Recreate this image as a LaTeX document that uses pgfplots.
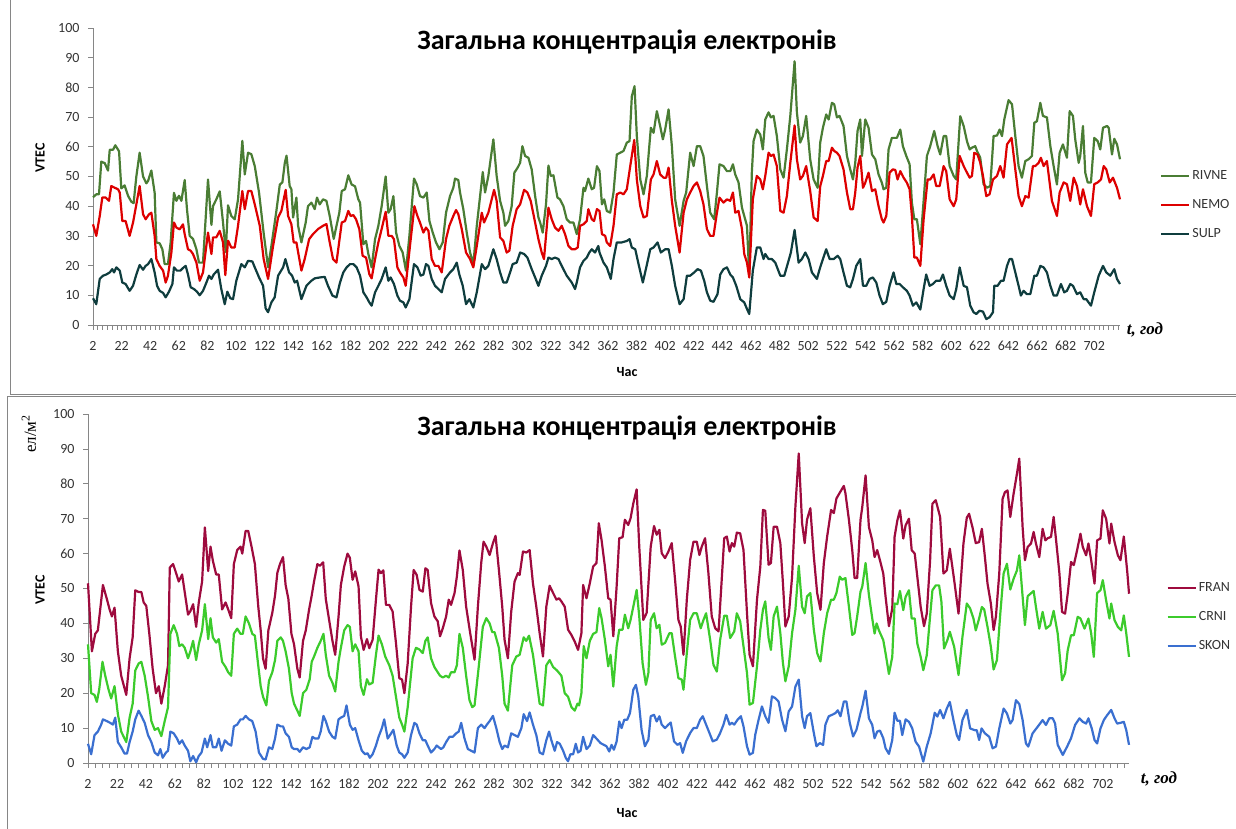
\documentclass[border=0pt]{standalone}
\usepackage{fontspec}
\setmainfont{Carlito}
\newfontfamily\seriffont{Liberation Serif}
\usepackage{pgfplots}
\pgfplotsset{compat=1.18}
\definecolor{rivne}{HTML}{4A7D34}
\definecolor{nemo}{HTML}{DD0000}
\definecolor{sulp}{HTML}{0F3D3E}
\definecolor{fran}{HTML}{9E0B3E}
\definecolor{crni}{HTML}{3CCB2C}
\definecolor{skon}{HTML}{3A6FD0}
\definecolor{axgray}{HTML}{868686}
\pgfplotsset{
  mystyle/.style={
    scale only axis, xmin=2, xmax=720, ymin=0, ymax=100,
    axis x line*=bottom, axis y line*=left,
    axis line style={draw=axgray, line width=0.8pt},
    ytick={0,10,...,100}, xtick={2,22,...,702},
    tick align=outside, major tick length=5pt, minor tick length=5pt,
    every tick/.style={draw=axgray, line width=0.6pt},
    tick label style={font=\fontsize{14}{16}\selectfont, text=black!80},
    xticklabel style={anchor=base, yshift=-20.5pt},
    yticklabel style={xshift=-5pt},
    /pgf/number format/assume math mode=true,
    clip=false,
    every axis plot/.append style={line width=2.2pt, line join=round, mark=none},
    legend image code/.code={\draw[##1, line width=2.2pt] (0pt,0pt) -- (28pt,0pt);},
    legend cell align=left,
  }
}
\begin{document}
\begin{tikzpicture}[x=1pt,y=1pt]
\useasboundingbox (0,0) rectangle (1236,829);
\draw[axgray, line width=0.8pt] (10,829) -- (10,435) -- (1236,435);
\draw[axgray, line width=0.8pt] (7,0) -- (7,433) -- (1236,433);

\begin{axis}[mystyle, at={(93pt,504pt)}, anchor=south west, width=1027pt, height=297pt,
  minor xtick={2,5.3333,...,720},
  legend style={at={(axis description cs:1.036,0.404)}, anchor=west, draw=none, fill=none,
    font=\fontsize{14}{16}\selectfont, text=black!80, row sep=14.5pt}]
\addplot[rivne] coordinates {(2,43)(4.3,44)(6.2,44)(7.8,55)(10.2,54.5)(12.5,52)(13.7,59)(16,59)(17.6,60.5)(20.2,58.5)(21.8,46)(24.1,47)(26.5,43.5)(28.8,41.5)(30.4,41)(32.3,50)(34.6,58)(37,50)(39.3,47.7)(40.5,48.5)(42.8,52)(45.1,44.5)(46.3,27.8)(48.6,27.5)(50.5,25.5)(52.1,20.5)(54.4,20.5)(56.3,27.8)(58.6,44.5)(60.3,41.8)(62.1,43.5)(63.8,41.8)(66.1,48.8)(67.7,39)(69.6,30)(71.9,29)(74.3,25.5)(76.1,21)(78.9,21)(82.4,49)(84.8,33.7)(85.9,40)(88.2,42.3)(90.6,45)(92.9,34.5)(94.8,24.6)(96.4,40.3)(98.7,36.7)(101.1,35.6)(103.4,42.3)(106.4,62)(108.1,50.7)(110.4,58)(112.7,57.5)(115.1,53.5)(118.1,44.5)(121.3,31)(124.4,19.4)(126.7,26.6)(130.2,38.4)(132.6,47.3)(134.4,48)(136.1,54.6)(137.3,57)(139.5,46.8)(140.7,45.7)(141.9,36.2)(144.2,42.9)(145.4,33.4)(147.7,27.8)(150.7,34.5)(152.3,40)(154.7,41.2)(157,39)(158.6,42.9)(160.5,40.6)(162.8,42.3)(165.2,41.8)(167.5,36.7)(170.3,29)(174.2,37.8)(175.9,45.1)(178.2,45.7)(180.5,50.4)(182.8,47.3)(185.2,46.7)(187.5,42.3)(188.7,41.2)(191,27.2)(192.9,28.3)(194.5,23.9)(196.8,19.4)(199.2,28.9)(201.5,33.4)(203.8,40)(206.6,50)(208.5,37.8)(210.1,39)(212,43.4)(213.9,31.1)(216.2,26.6)(218.5,24.4)(220.8,18.3)(223.2,30)(226.4,49.3)(228.3,47.4)(230.6,43.4)(233,42.9)(235.3,44.6)(237.2,35)(239.5,31.1)(241.8,27.8)(244.2,25.5)(246.5,27.8)(248.8,37.8)(251.6,43.4)(253.9,46.2)(255.1,49.3)(257.4,48.8)(258.6,44.6)(260.9,39)(263.3,31.1)(265.6,24.4)(267.9,20.5)(270.3,33.4)(274.5,51.5)(276.1,44.6)(278.4,50.2)(281.9,62.5)(284.2,50.2)(286.6,41.8)(288.9,37.8)(290.1,33.4)(292.4,35)(294.7,40)(296.6,51.3)(298.9,53)(300.6,54.6)(302.2,60.2)(304.1,56.9)(306.4,56.3)(308.7,52.4)(311.1,43.4)(313.4,36.2)(314.6,34.5)(316.4,31.1)(318.7,40.6)(320.4,53.7)(322,50.2)(323.9,50.4)(326.7,42.9)(328.5,42.3)(330.9,40)(333.2,35.6)(335.5,34.5)(337.9,34.5)(340.2,30.6)(342.5,35.6)(344.9,46.2)(346,45.1)(348.3,49.3)(350.7,45.7)(352.3,46.2)(354.3,53.5)(356.1,51.8)(357.8,40.6)(359.4,42.3)(361.2,38.4)(363.6,37.8)(365.9,44.6)(368.2,57.4)(370.6,58)(372.9,58.6)(375.2,61.4)(377.1,61.9)(378.7,77)(380.6,80.4)(382.2,63.6)(384.6,49)(386.9,44)(389.2,50.2)(392,66.4)(393.9,64.7)(396.2,72)(398.5,67)(400.4,62.5)(402,65.8)(404.4,72.6)(406.7,60.2)(409,42.3)(412.1,33.4)(414.9,41.8)(416.7,44.6)(419.5,58)(421.9,53.5)(424.2,60.2)(426.5,60.2)(428.8,56.9)(431.2,46.8)(433.5,37.8)(436.3,35.6)(438.2,44.6)(440,54.1)(442.8,53.5)(445.2,51.8)(447.5,51.8)(449.4,54.1)(451,50.7)(453.3,48)(455.7,39.5)(457.3,36.7)(459.2,33.4)(460.8,16.6)(462.6,51.3)(463.8,61.9)(466.1,65.8)(468.5,64.1)(470.3,59.1)(472,69.2)(474.3,71.6)(475.9,69.9)(477.8,70.4)(480.1,63.6)(482.5,52.4)(484.8,49.6)(487.1,59.1)(489.5,70.4)(492.5,88.8)(494.1,71.6)(496.4,61.4)(498.3,63.6)(500.6,70.4)(503.4,55.8)(505.8,49)(508.6,46.2)(510.4,61.4)(512.3,66.4)(514.6,70.9)(516.3,69.2)(518.6,74.8)(520.2,74.3)(522.1,69.9)(523.9,70.4)(526.7,67)(529.1,56.9)(531.4,52.4)(533.3,49)(534.9,54.6)(536.5,65.3)(538.4,69.2)(539.6,56.9)(541.9,69.2)(544.2,66.4)(546.6,57.4)(548.9,55.8)(551.2,50.7)(553.5,47.9)(554.7,45.7)(556.6,46.2)(558.2,59.1)(560.5,63)(562.9,63)(564,63)(566.4,65.8)(568.2,60.2)(570.6,56.9)(572.9,54.1)(574.5,41.2)(576.2,35.6)(578,35.6)(580.4,27.2)(582.7,41.8)(585,56.9)(587.3,60.2)(590.1,65.3)(592.5,60.2)(594.3,57.4)(596.7,63.6)(598.5,63.6)(600.9,53.5)(603.7,50.2)(605.5,49)(608.3,70.3)(610.7,67)(613,61.9)(614.9,59.1)(616.5,59.7)(618.8,60.2)(620,58.6)(622.3,56.3)(624.6,47.4)(627,46.2)(629.3,46.8)(631.6,63.6)(634,63.8)(635.8,65.8)(637.5,63.6)(639.1,69.2)(642.1,75.7)(644.5,74.3)(646.8,63.6)(649.1,53.5)(651.4,49.6)(653.8,55.2)(656.1,55.8)(658.4,56.9)(660.1,68.1)(661.9,68.6)(664.3,74.8)(666.1,70.4)(668.9,69.9)(671.3,60.2)(673.6,53.5)(675.9,47.3)(677.8,58)(680.1,60.8)(682.9,56.3)(684.8,72)(687.1,70.4)(688.7,62.5)(691.1,54.6)(692.2,56.9)(694.1,67)(695.7,51.3)(697.4,48)(699.7,48)(702,63)(704.4,61.9)(706.2,59.1)(708.1,66.4)(710.9,67)(712.1,66.4)(714.4,57.4)(716,62.7)(717.9,60.8)(720,55.8)};
\addlegendentry{RIVNE}
\addplot[nemo] coordinates {(2,33.9)(4.3,30)(6.7,36.7)(8.5,42.9)(10.9,42.9)(13.2,41.8)(14.8,46.8)(17.2,46.2)(19.5,45.7)(20.7,44.6)(22.5,35)(24.8,35)(27.6,30)(30,34.5)(32.3,40.6)(34.6,46.8)(37,37.3)(38.8,35.6)(41.2,37.3)(42.8,37.8)(45.1,30)(46.3,22.2)(48.6,19.9)(51,18.3)(52.8,14.3)(54.4,16.6)(56.8,24.4)(58.6,34.5)(60.3,32.8)(62.6,32.2)(64.9,33.9)(66.1,30.6)(68.4,25.5)(70.3,25)(71.9,23.9)(74.3,21)(76.6,14.9)(78.9,17.7)(82.4,31.1)(84.8,23.9)(85.9,29.5)(88.2,29.5)(90.6,31.7)(92.9,27.8)(94.5,16.8)(96.4,28.4)(98.7,26.1)(101.1,26.1)(103.4,33.4)(106.4,45.1)(108.1,39)(110.4,45.1)(112.7,45.1)(115.1,40.6)(118.6,33.4)(121.3,22.2)(124.4,15.5)(127.9,26.6)(131.4,36.2)(133.7,38.4)(136.7,45.5)(138.4,36.7)(140.7,33.9)(142.3,27.8)(144.2,27.8)(147.7,18.3)(150,22.2)(153.1,28.9)(155.8,30.6)(159.3,32.3)(162.8,33.4)(165.2,34)(167.5,27.8)(169.8,22.2)(172.2,21)(175.9,34.5)(178.2,35)(180.5,38.4)(182.1,36.7)(184,37)(185.9,35.6)(188.2,32.3)(190.5,23.3)(192.9,22.7)(195.2,17.1)(196.8,15.7)(199.2,22.2)(201.5,27.8)(203.8,32.3)(206.6,38.1)(208.5,30)(210.8,30)(212.4,28.9)(214.8,19.4)(216.6,17.7)(219,16)(220.6,13.2)(223.6,26.6)(226.7,40)(228.8,36.7)(230.6,34.5)(233,31.1)(234.8,32.8)(236.5,31.7)(238.8,22.2)(241.1,19.9)(243.5,19.9)(245.8,17.7)(248.8,28.9)(251.1,33.4)(253.9,36.7)(255.8,38.7)(257.4,37.3)(259.8,32.3)(262.8,24.4)(265.6,22.2)(267.9,19.4)(270.3,26.6)(273.8,37.8)(275.4,34.5)(278.4,37.8)(282.4,45.5)(284.2,41.8)(286.6,29.5)(288.9,28.3)(291.2,24.4)(293.1,25)(295.4,33.4)(298.2,39)(300.6,40.6)(303.4,45.5)(305.7,44.6)(308,41.8)(311.1,34.5)(313.4,28.9)(315.7,24.4)(317.3,22.2)(320.4,39.5)(322.7,35.6)(325,32.8)(327.4,31.7)(329.7,33.4)(332,30.6)(334.4,26.6)(336.7,25.5)(339,25.5)(340.9,26.1)(342.5,33.4)(344.9,33.9)(347.2,35)(348.3,39)(350.7,35.6)(352.3,35)(354.3,39)(356.1,38.4)(357.8,30.6)(360.1,30)(361.2,27.8)(363.6,26.6)(365.9,33.4)(368.2,44)(370.6,44.6)(372.9,44)(375.2,45.7)(377.6,53.5)(380.4,62.3)(382.2,49)(384.6,40)(386.9,36.2)(389.2,36.7)(392,49)(393.9,50.7)(396.2,55.2)(398.5,50.7)(400.9,49.6)(402.7,49.6)(404.4,53)(406.7,41.8)(409,33.4)(412.1,24.4)(414.9,37.8)(417.2,42.3)(419.5,44.6)(421.9,46.8)(424.2,48)(426.5,45.1)(428.8,40.6)(431.2,32.3)(433.5,30)(435.8,30)(438.2,37.8)(440,42.9)(442.8,41.2)(445.2,42.3)(447.5,41.8)(449.4,44.6)(451,37.8)(453.3,38.4)(455.7,32.3)(457.3,23.9)(459.2,21)(460.8,16)(463.3,42.3)(466.1,50.2)(468.5,49)(470.3,45.7)(472,50.2)(474.3,58)(475.9,56.9)(477.8,57.4)(480.1,53.5)(482.5,38.4)(484.8,37.8)(487.1,43.4)(489.5,54.6)(492.5,67.2)(494.1,55.8)(496.4,49)(498.3,50.2)(500.6,53.5)(503.4,45.1)(505.8,36.2)(508.6,35)(510.4,46.7)(512.3,50.2)(514.6,55.2)(516.3,55.2)(518.6,59.7)(520.2,58.6)(522.1,58)(523.9,56.9)(526.7,52.4)(529.1,44.6)(531.4,39)(533.3,39)(534.9,44.6)(536.5,53)(538.4,56.9)(540.3,46.2)(541.9,47.9)(544.2,51.3)(546.6,45.1)(548.9,45.7)(551.2,40)(553.5,35.6)(554.7,34.5)(556.6,36.7)(558.9,51.3)(561.2,52.4)(562.9,52.2)(564.5,49)(566.4,51.8)(568.7,49.6)(571,47.9)(572.9,45.7)(574.5,36.7)(576.2,22.7)(578,22.7)(580.4,19.9)(582.7,35.6)(585.5,49)(587.3,49)(589.7,50.7)(591.5,46.8)(593.9,46.8)(596.7,53.5)(598.5,51.8)(600.9,42.3)(603.7,40)(605.5,42.3)(607.9,56.9)(610.7,53.5)(613,51.3)(614.9,49.6)(616.5,50.2)(618.1,58)(620.4,57.4)(622.3,54.6)(624.2,50.2)(626.5,43.4)(628.8,44)(631.2,49)(634,50.2)(636.3,53.5)(638.6,49.6)(641,60.8)(644.2,63)(646.8,52.4)(649.1,43.4)(651.4,40)(653.8,43.4)(656.1,42.9)(659.1,53.5)(660.8,53.5)(663.1,54.6)(664.7,56.3)(666.6,53.5)(668.9,55.2)(672.4,41.8)(675.9,36.7)(677.8,44.6)(680.6,48)(682.9,47.4)(685.2,41.8)(687.6,49.6)(689.9,46.8)(692.2,40.6)(694.1,45.7)(696.9,40)(699.7,36.7)(702,47.4)(704.4,48)(706.7,49)(708.6,53.5)(710.4,52.4)(712.8,48)(715.1,49.6)(717.9,46.2)(720,42.3)};
\addlegendentry{NEMO}
\addplot[sulp] coordinates {(2,9)(4.3,7)(6.7,15.5)(9,16.6)(11.3,17)(13.7,17.7)(15.5,18.8)(16.7,17.7)(18.3,19.4)(20.7,18.3)(22.5,14.3)(24.8,13.8)(27.6,11.5)(30,13.2)(32.3,17)(34.6,20.2)(37,18.6)(38.8,19.9)(40.5,20.5)(42.8,22.2)(45.1,17.7)(46.8,13.2)(48.6,11.5)(51,10.8)(52.8,9.3)(55.1,11.2)(57.5,13.8)(58.6,19.4)(60.7,18.3)(63.1,18.3)(65.4,19.4)(66.8,19.9)(68.4,17)(70.3,12.7)(72.6,12.1)(74.7,11.2)(76.6,10)(78.9,11.5)(81.3,14.3)(83.1,16.6)(84.8,15.5)(86.4,17)(89.4,18.6)(91.7,12.1)(94.1,7)(95.9,11.2)(98,9)(99.9,8.7)(102.2,14.9)(105.7,20.5)(108.1,19.4)(110.4,21.6)(113.4,21.4)(115.1,19.4)(118.1,16)(120.9,13.2)(122.7,5.6)(124.4,4.3)(126.7,7.6)(129,9.3)(131.4,16.6)(134.9,19.4)(136.5,22.2)(139.1,17.7)(141.2,16.6)(143,14.3)(144.7,14.9)(147.7,8.7)(151.2,13.2)(154.7,14.9)(157,15.7)(160.5,16)(164,16.2)(166.3,13.2)(169.4,9.9)(172.2,9.3)(174.7,14.3)(177,17.7)(179.3,19.4)(181.7,20.5)(184,20.5)(186.3,19.4)(188.7,16.6)(191,11)(193.3,9.3)(195.2,7.6)(196.8,6.5)(199.2,11)(201.5,13.2)(203.8,15.5)(206.6,19.4)(208.5,14.9)(210.1,16)(212.4,13.8)(214.8,9.9)(216.6,8.2)(219,7.6)(220.6,5.9)(223.2,8.7)(226.4,20.5)(228.8,19.4)(231.1,16.6)(233,17)(234.8,20.5)(236.5,19.9)(238.8,15.5)(241.1,13.2)(243.5,12.1)(245.8,11)(248.1,15.5)(251.6,17.7)(253.9,18.8)(256.3,21)(258.1,17)(260.5,13.2)(262.8,7)(265.1,8.7)(267.9,5.9)(270.3,11)(273.8,20.5)(276.1,18.8)(278.4,19.9)(281.9,25.5)(284.2,22.2)(286.6,17.7)(288.9,14.3)(291.2,14.3)(293.6,17.7)(295.4,20.5)(298.2,21)(300.6,24.4)(303.4,23.9)(305.7,22.7)(308.7,18.8)(311.1,16)(313.4,13.2)(315.7,16.6)(318.7,19.9)(320.4,22.7)(322.7,22.2)(325,22.7)(327.4,22.2)(329.7,19.9)(333.2,16.6)(336.7,14.3)(339,12.1)(340.2,14.3)(342.5,19.4)(344.9,21.6)(347.2,22.7)(349,24.4)(350.7,25.5)(353,24.4)(355.3,26.6)(356.1,24.4)(358.9,21)(361.2,19.4)(364,15.5)(365.9,22.2)(368.2,27.8)(371.7,27.8)(375.2,28.3)(377.1,28.9)(378.7,26.1)(381.1,25.5)(383.4,20.5)(386.4,14.3)(388.8,19.4)(391.6,25.5)(393.9,26.1)(396.7,27.8)(399,24.4)(402,25.5)(404.4,25.5)(406.7,19.9)(409,13.2)(412.1,7)(414.9,8.7)(417.2,16.6)(419.5,16.6)(422.3,17.7)(424.7,18.8)(427,18.3)(429.3,14.9)(431.2,11)(433.5,8.2)(435.8,7.8)(438.6,10.4)(440.5,17)(442.8,18.8)(445.2,19.4)(447.5,17)(449.4,16)(451.7,13.2)(454.5,8.7)(457.3,7.6)(459.2,5.4)(460.8,3.7)(463.3,18.3)(466.1,26.1)(468.5,26.1)(470.8,22.2)(472,23.9)(474.3,22.2)(476.6,22.2)(479,21)(482.5,16.6)(485.3,16.6)(487.6,20.5)(489.9,24.4)(492.5,32)(495.3,21)(497.6,22.2)(500,24.4)(502.3,22.2)(504.6,17.7)(508.1,15.5)(510,18.8)(512.3,22.2)(514.6,25.5)(517,22.2)(519.8,22.2)(522.6,23.3)(524.4,22.2)(526.7,17.7)(529.1,13.2)(531.4,12.7)(533.3,15.5)(535.6,19.9)(538.4,22.2)(540.3,13.2)(542.6,13.2)(544.9,15.5)(547.2,16)(549.6,14.3)(551.9,9.9)(554.2,7)(556.6,7.8)(558.9,13.2)(561.7,17.7)(563.6,13.8)(565.9,13.8)(568.2,12.7)(571,11.5)(572.9,9.9)(575.2,6.5)(577.6,7.6)(580.4,5.2)(582.7,12.1)(584.5,17)(586.9,13.2)(589.2,13.8)(591.5,14.9)(594.3,14.9)(596.2,17)(598.5,13.2)(600.9,9.9)(603.7,8.7)(605.5,12.1)(607.9,19.4)(610.7,13.2)(613,12.7)(615.3,6.5)(617.6,4.3)(619.5,3.7)(621.8,4.8)(624.2,4.5)(626.5,2)(628.8,2.6)(631.2,4.3)(632.1,13.2)(634.4,13.2)(636.8,14.9)(638.6,14.9)(641,19.9)(642.8,22.2)(644.5,22.2)(646.8,17.7)(649.1,13.2)(650.7,9.9)(652.6,11.5)(654.9,10.4)(657.3,10.4)(660.1,16.6)(661.9,16.6)(664.3,19.9)(666.6,19.4)(668.9,17.7)(671.3,13.2)(673.6,9.9)(675.9,9.9)(678.7,13.8)(681,11)(682.9,11.5)(685.2,13.8)(687.1,13.2)(689.9,10.4)(692.2,11)(694.6,8.7)(696.4,8.7)(699.7,6.5)(702,11)(705.1,16.6)(708.1,19.9)(710.4,17.7)(713.2,16.6)(716,18.8)(717.9,15.5)(720,13.8)};
\addlegendentry{SULP}
\end{axis}

\begin{axis}[mystyle, at={(88pt,66pt)}, anchor=south west, width=1041pt, height=349pt,
  minor xtick={2,7,...,720},
  legend style={at={(axis description cs:1.033,0.418)}, anchor=west, draw=none, fill=none,
    font=\fontsize{14}{16}\selectfont, text=black!80, row sep=14.5pt}]
\addplot[fran] coordinates {(2,51.5)(4.7,32)(7,37)(8.8,38)(12.3,51)(15,47)(16.9,44)(18.5,42)(20.3,44.5)(22.6,32)(24.9,25)(28.4,19.5)(30.7,30)(32.8,36)(34.6,49.5)(36.9,49)(38.8,49)(40.4,46)(42.2,45)(44.3,37)(46.6,27)(48.9,20)(50.8,22)(52.6,17)(54.9,22)(57.2,28)(58.4,56)(60.7,57)(62.3,55)(64.6,52)(66.9,54)(68.7,49)(71,42.5)(72.6,43.5)(74.5,45.5)(76.6,39)(78.4,46)(80.7,52)(82.6,67.5)(84.9,55)(86.5,62)(88.1,58)(90.4,54)(92.2,54)(94.5,44)(96.9,46)(98.7,44)(100.8,41.5)(102.6,57)(104.9,61)(107.2,62)(108.4,60)(110.7,66.5)(112.5,66.5)(114.8,62)(117.1,57)(119.4,45)(121.1,38)(122.7,30)(124.5,27)(126.4,38)(129.1,43)(131,48)(132.6,54.5)(134.4,57)(136.5,59)(138.3,51)(140.2,47)(142.3,37)(144.1,34)(146.4,27)(148,24.5)(150.3,35)(152.2,38)(154.5,44)(156.3,48)(157.9,52)(160.2,57)(161.9,56.5)(164.2,57.5)(166,47)(168.3,41)(170.6,35)(172.5,31)(174.8,42)(176.4,51)(178.7,56.3)(181,60)(182.6,58.8)(184.5,52.5)(186.3,54.9)(188.6,50.6)(190.2,36.3)(192.1,32.4)(194.4,35.5)(196,32.9)(198.3,35.3)(200.6,46.8)(202.4,55.4)(204,54.4)(205.7,55.2)(207.5,45.3)(209.8,45.3)(212.1,43.4)(214.4,34.4)(216.7,24.3)(218.6,23.9)(220.2,20)(222.5,28.6)(224.8,44.8)(226.6,55.3)(228.7,53.9)(230.6,49.6)(232.9,49.1)(234.7,55.8)(236.3,55.3)(238.6,45.8)(240.9,42)(243.2,40.6)(244.8,36.3)(246.7,38.6)(249,42)(250.8,46.8)(252.4,45.3)(254.8,48.7)(256.4,53.4)(258.2,60.9)(260.5,55.3)(262.8,44.8)(265.6,37.2)(268.6,29.6)(270.9,44.8)(273.2,57.3)(274.8,63.4)(276.7,62)(279,59.6)(281.3,63)(283.1,65.1)(285.4,55.3)(287.7,44.8)(289.3,35.3)(291.6,30)(293.9,43.4)(296.2,52)(298.5,54.4)(299.7,53.9)(302,60.6)(304.3,60.3)(306.6,61)(308.9,51.4)(311.2,44.8)(313.5,37.2)(315.8,30.5)(318.1,44.8)(320.4,50.8)(322.8,48.7)(325.1,46.8)(326.9,47.2)(328.5,46.3)(330.8,44.8)(333.1,38.2)(335.4,36.7)(337.7,34.8)(340,32.4)(342.3,37.2)(343.5,51)(345.8,47.2)(348.1,51.5)(350.4,56.3)(352.7,57.3)(354.3,68.7)(356.2,63.9)(358.5,56.3)(360.8,47.2)(362.4,46.8)(364.3,36.3)(366.6,50.6)(368.4,64.4)(370.7,64.7)(372.3,69.7)(374.6,68.2)(376.2,70.1)(378.1,74.4)(380.4,78.4)(382.2,62)(385,41)(387.3,43)(390.1,62)(392.4,67.9)(394.2,65.4)(396.1,66.8)(397.7,60.1)(400,58.7)(402.3,60.6)(404.6,63)(406.9,52.5)(409.2,41)(410.8,39.1)(412.7,31)(415,46.8)(417.3,58.2)(419.6,63.4)(421.9,63.4)(423.7,59.6)(425.3,62)(427.6,64.4)(429.9,54.4)(432.2,42)(434.6,38.6)(436.9,37.7)(439.2,53.4)(440.8,64.4)(442.6,64.9)(444.5,60.6)(446.1,63)(447.7,62)(449.5,66)(451.8,65.8)(454.1,61)(456.5,43)(458.3,31)(460.6,27.7)(463.4,46.8)(465.7,56.3)(467.5,72.5)(469.1,72.3)(471.4,56.8)(473,57.3)(474.9,67.7)(477.2,67.7)(479.5,63)(481.3,51.5)(483,39.1)(485.3,42)(487.6,53.4)(489.9,73.5)(492.2,88.7)(494.5,68.7)(496.3,63)(497.9,69.7)(500.2,73)(502.6,59.2)(504.9,48.7)(507.2,43.9)(509.5,57.3)(511.8,64.9)(514.5,72.5)(516.4,71.6)(518.2,75.8)(521,77.8)(523.3,79.4)(524.4,77.3)(526.8,69.7)(529.1,61)(530.7,53)(532.5,53)(534.8,69.7)(536,73.3)(538.3,82.4)(540.6,67.6)(542.9,63.8)(544.5,59)(546.3,61)(548.2,58.1)(550.5,54.3)(552.1,47.6)(554.4,39.2)(556.7,44.3)(558.3,64.8)(560.2,69.5)(562,72.4)(564.3,64.3)(565.9,68.1)(568.2,70)(570.1,61)(572.2,60)(574,53.3)(576.3,44.7)(578.6,39.2)(580.5,42.8)(582.8,58.1)(584.4,74.3)(586.7,75.3)(589.7,70.5)(592,54.3)(594.3,55.2)(596.4,61.4)(599.4,52.4)(602.4,42.8)(605.8,62.9)(608.1,70.3)(609.7,71.4)(612,67.6)(614.3,63)(616.6,63.3)(618.5,67.1)(620.6,59)(622.4,51.4)(624.7,45.7)(626.6,38.1)(628.2,42)(630.5,54.3)(632.8,75.7)(634.4,77.6)(636.2,78.1)(638.1,70.5)(640.4,77.2)(642.7,82.9)(644.3,87.2)(646.6,67.6)(648.2,58.1)(650.1,61.9)(652.4,62.9)(654.2,66.2)(655.8,62.9)(658.1,59)(660.4,67.1)(662.3,63.8)(663.9,64.4)(666.2,64.8)(668,70.5)(669.7,63.8)(672,54.3)(673.8,43.3)(675.9,42.8)(677.7,48.5)(680,57.6)(681.9,56.7)(684.2,61)(686.5,65.7)(688.1,61.9)(690.4,59.5)(692,62.9)(693.9,58.1)(696.2,51.4)(698,63.8)(700.3,64.3)(701.9,72.4)(704.2,70)(706.5,62.9)(707.7,68.6)(710,63.3)(712.3,59.5)(714.1,58.1)(716.4,64.9)(718.8,54.7)(720,48.5)};
\addlegendentry{FRAN}
\addplot[crni] coordinates {(2,34)(4.2,20)(6.5,19.5)(8.1,17.5)(9.7,21)(12,29)(13.9,25)(16.2,21)(18,18.5)(20.3,22)(22.6,14)(24.9,9)(28.4,6)(30.7,13)(32.8,17)(34.6,26.5)(36.9,28.5)(38.8,29)(41.1,25)(43.4,19)(45.7,12)(48,9.5)(50.3,10)(52.6,7.7)(54.9,12)(57.2,16)(58.8,37)(61.1,39.5)(63.4,37)(65,33.5)(66.9,34)(68.7,33)(71,30)(72.6,32)(74.5,35)(76.6,29.5)(78.4,34)(80.7,38)(82.6,45.5)(84.9,35.5)(86.5,41.5)(88.1,36)(90.4,34.5)(92.2,35.5)(94.5,29)(96.9,27.5)(98.7,26)(100.8,25)(102.6,37)(104.9,38.5)(107.2,37)(108.8,37)(110.7,42)(113,40)(115.3,37)(117.1,36.5)(119.4,28)(121.1,22)(122.7,19)(125,16.5)(126.8,23.5)(129.1,26)(131,29.5)(132.6,35)(134.9,36)(136.5,35)(138.3,32)(140.6,27)(142.5,20)(144.1,17)(146.4,15)(148,13.5)(150.3,20)(152.6,21)(154.9,24)(156.3,29)(157.9,30.5)(160.2,33)(162.5,35)(164.4,37)(166,31)(168.3,25)(170.6,23)(172.5,20.5)(174.8,29)(176.4,33)(178.7,38)(181,39.5)(182.6,39)(184.5,32)(186.3,34)(188.6,32)(190.2,22)(192.1,19.5)(194.4,24)(196,22.5)(198.3,23)(200.6,31)(202.4,36.5)(204.7,34)(207,30.5)(209.8,28)(212.1,25)(216.7,13)(218.6,11)(220.2,9)(222.5,16)(225.9,30)(228.2,33)(230.6,32.5)(232.9,31.5)(234.7,35)(236.3,36)(238.6,30)(240.9,27.5)(243.2,26)(244.8,25)(246.7,24.5)(249,25)(250.8,24.5)(252.4,26)(254.8,26)(256.4,28)(258.2,37)(260.5,33)(262.8,25)(265.1,18)(267,16)(268.6,16.5)(271.6,28)(274.3,39)(276.7,41.5)(279,40)(280.8,37.5)(282.4,37.5)(285.4,33)(287.7,25)(289.3,17)(291.6,15)(294.6,28)(297.4,30.5)(299.7,31)(302.5,36)(304.3,35)(306.2,36.5)(308.9,31)(311.2,24)(313.5,17)(315.8,16.5)(318.1,28)(320.4,29.5)(322.8,27.5)(325.5,26.5)(328.5,25)(330.8,20)(333.1,19)(335.4,16)(337.7,15)(339.6,17)(340.7,16.5)(342.3,20)(343.9,33.5)(345.8,30)(348.1,35)(350.4,37)(352.7,37.5)(354.6,44.4)(356.2,41.5)(358.5,35.3)(360.8,27.7)(362.4,31)(364.3,21.9)(366.6,33.4)(368.4,38.2)(370.7,38.2)(372.3,42.5)(374.6,38.6)(376.2,41)(378.1,44.8)(380.4,49.6)(382.2,42)(384.5,28.6)(386.8,22.4)(388.5,25.8)(390.1,41)(392.4,42.9)(394.2,38.6)(396.1,39.6)(397.7,33.9)(400,34.4)(403,37.2)(404.6,37.2)(406.9,30.5)(409.2,24.3)(411.5,23.9)(412.7,21)(415,31.5)(417.3,41)(419.6,42.9)(421.9,42.9)(424.6,38.6)(426.5,41)(428.3,42.9)(431.1,35.3)(433.4,28.1)(435.7,26.2)(438,35.3)(440.8,42.2)(442.6,42.2)(444.9,35.8)(447.7,37.7)(449.5,42.9)(451.8,40.6)(454.1,33.4)(456.5,25.8)(458.3,16.7)(460.6,17.2)(463.4,27.7)(465.7,38.2)(467.5,43.9)(469.1,46.3)(471.4,35.8)(473,32.4)(474.9,42)(477.2,44.8)(479.5,37.2)(481.3,28.6)(483,23.4)(485.3,27.7)(487.6,37.2)(489.9,43.9)(492.2,56.5)(494.5,44.8)(496.3,42.9)(497.9,47.7)(500.2,48.7)(502.6,38.2)(504.9,31.5)(507.2,29.1)(509.5,37.2)(511.8,42.9)(514.5,46.8)(516.4,46.8)(518.2,48.7)(520.5,53.4)(522.1,52.5)(524.4,53)(526.8,44.8)(529.1,36.7)(530.7,37.2)(532.5,42)(534.8,49.1)(536,50.5)(538.3,57.3)(540.6,48.1)(542.9,41.4)(544.5,37.1)(545.9,40)(547.5,38)(550.5,35.2)(552.1,31.4)(554.4,25.5)(556.7,30.4)(558.3,45.7)(560.2,45.5)(562,49.3)(564.3,43.8)(565.9,47.6)(568.2,49.5)(570.1,41.4)(572.2,41.4)(574,34.2)(576.3,30.4)(578.1,26.6)(580.5,30.9)(582.8,42.1)(584.4,49.5)(586.7,50.9)(589,50.9)(590.6,46.2)(592.4,32.8)(594.7,35.2)(596.4,37.6)(599.4,33.3)(602.4,25.2)(605.1,36.1)(608.1,45.7)(610.4,44.3)(612.7,41.4)(614.3,38)(616.6,41.4)(618.5,44.7)(620.1,44)(622.4,39)(624.7,33.3)(626.6,26.8)(628.9,29.5)(631.2,42.8)(633.5,54.3)(635.8,57.1)(638.1,49.7)(640.4,52.8)(642.7,55.2)(644.3,59.5)(648.2,39.5)(650.1,47.8)(654.2,49.3)(655.8,44.7)(658.1,38.5)(660.4,43.3)(662.7,38.5)(665.7,39.5)(668,43.6)(670.8,37.1)(673.8,23.7)(675.9,25.7)(677.7,32.3)(680,36.6)(681.9,36.6)(684.6,41.9)(686.5,41.4)(689.3,38.5)(692,41.4)(693.9,37.1)(695.7,30.4)(698,48.7)(700.3,49.5)(701.9,52.4)(704.2,46.6)(706.5,41.4)(707.7,45.7)(710,40.9)(712.3,39)(714.6,38)(716.4,42.3)(718.1,37.1)(720,30.4)};
\addlegendentry{CRNI}
\addplot[skon] coordinates {(2,5.5)(4.2,2.5)(6.5,8)(8.8,9)(11.1,11)(12.3,12.5)(15,12)(17.3,11.5)(19.2,11)(20.8,13)(22.6,6)(24.9,4.5)(27.2,2.7)(28.9,2.7)(30.7,6)(32.8,9)(34.6,12.5)(36.9,15)(38.8,13.5)(41.1,11.5)(43.4,8)(45.7,6)(48,3)(50.3,2.2)(51.9,4)(53.5,1.5)(55.8,3)(57.2,3.5)(58.8,9)(61.1,8.5)(63.4,7)(65,5.5)(66.9,6.5)(68.7,5)(71,3.5)(72.6,0.5)(74.5,2)(76.6,0.2)(78.4,2)(80.3,3)(82.6,7)(84.2,4.5)(86.5,8)(88.1,4.5)(90.4,4.5)(92.2,7)(94.1,3.5)(96.4,6.5)(98.7,5.5)(100.8,5)(102.6,10.5)(104.9,11)(107.2,12.5)(108.8,12.5)(110.7,13.5)(113,12.5)(115.3,12)(117.6,9)(119.9,3)(122.7,1.2)(124.5,1)(126.8,4.5)(129.1,4)(131,7)(132.6,11)(134.9,10.5)(136.5,10.5)(138.3,8.5)(140.6,7.5)(142.5,4.5)(144.1,4)(146.4,4)(148,3.2)(150.3,4.5)(152.6,4)(154.9,4.5)(156.8,7.5)(158.6,7)(160.9,7)(162.5,9)(164.4,13.5)(166,12)(168.3,9)(170.6,7.5)(172.5,7)(174.8,12.5)(176.4,13)(178.7,13.5)(180.3,16.5)(182.6,11)(184.5,9.5)(186.3,10)(188.6,6.5)(190.9,3.5)(193.2,2.5)(194.8,2.8)(196.4,1.5)(198.3,2.5)(200.6,5)(202.4,7.5)(204.7,10)(206.3,12.5)(208.7,7)(210.3,8)(212.6,9.5)(214.9,5)(216.7,3)(218.6,2.5)(220.2,1.5)(222.5,3)(224.8,8)(227.1,11.5)(228.7,11)(230.6,8.5)(232.9,6.5)(234.7,6.5)(236.3,5)(238.6,3)(240.9,4)(242.5,5)(243.9,4.5)(245.5,4)(247.1,4.5)(249,6)(251.3,7.5)(253.6,7.5)(255.9,8.5)(257.7,9)(259.4,11.5)(261.7,7)(264,4)(266.3,3.5)(268.6,3)(270.9,10)(273.2,11)(275.5,10)(277.1,11)(279,12)(281.3,13.5)(283.6,10)(285.9,6)(287.7,4)(289.3,5)(291.6,4.5)(293.9,8.5)(296.2,8)(298.5,7.5)(300.9,10)(302.5,14)(304.8,12)(306.6,14.5)(308.9,11)(311.2,8)(313.5,3)(315.8,2.5)(318.1,6.5)(320,9)(321.6,6.5)(323.9,3.5)(325.5,6)(327.4,5.5)(329.7,3.5)(331.5,1.5)(333.1,0.5)(334.7,2.5)(336.6,2.5)(338.4,5.5)(340,3)(341.7,3.5)(343.5,7.5)(345.8,4)(348.1,5)(350.4,8)(352.7,7)(355.5,5.7)(357.8,5.2)(359.6,4.8)(361.5,3.3)(363.1,5.2)(364.7,3.8)(366.6,6.2)(368.4,11.9)(370,10)(371.9,12.4)(373.9,12.4)(375.8,14.3)(378.1,21)(379.9,22.4)(381.5,19.1)(383.8,9.5)(386.1,4.8)(388.5,6.7)(390.1,13.4)(392.4,13.8)(394.2,11.9)(396.1,13.4)(397.7,11)(400,10)(402.3,11)(403.9,11.6)(406.2,6.2)(408.5,5.2)(410.4,5.7)(412.2,2.9)(414.5,6.2)(417.3,8.6)(419.6,10)(421.9,10)(424.2,12.4)(426,13.4)(428.3,11)(430.6,8.6)(432.9,6.2)(435.7,6.7)(438,8.6)(440.3,11)(442.2,13.8)(444.5,11)(446.1,11.5)(447.7,11)(450,12.4)(452.3,13.4)(454.1,10.5)(456.5,4.8)(458.3,2.4)(460.6,2.9)(462.2,8.1)(464.5,12.4)(466.8,16.2)(469.1,13.4)(471.4,11.5)(473.7,19.1)(476,18.6)(478.3,17.6)(480.7,12.4)(483,9.1)(485.3,14.8)(487.6,16.2)(489.9,21.9)(492.2,23.9)(494.5,13.4)(496.3,10)(497.9,13.4)(500.2,14.3)(502.6,8.6)(504.4,4.8)(506.7,5.7)(509,5.2)(510.6,11)(512.9,13.4)(515.2,13.8)(517.5,14.3)(519.1,15.1)(521,13.4)(523.3,17.6)(525.1,17.6)(527.4,11.5)(529.7,7.6)(532,9.5)(534.8,14.3)(536,16.1)(538.3,20.7)(540.6,12.8)(542.9,10.9)(544.5,7.1)(546.3,9)(548.2,9.3)(550.5,7.1)(552.1,4.2)(554.4,2.6)(556.7,6.6)(558.3,14.4)(560.2,12.1)(562,12.1)(563.6,8)(565.9,12.5)(568.2,11.8)(570.5,9.9)(572.8,6.1)(575.2,4.7)(578.1,0.4)(580.5,4.7)(583.2,8.5)(586,14.4)(587.8,13.3)(589.7,15.2)(592,12.8)(594.3,15.6)(596.4,17.5)(598.9,12.3)(601.2,8)(602.8,6.6)(605.1,12.3)(608.1,15.2)(610.4,9.9)(613.6,9.4)(615,9.4)(616.6,6.6)(618.3,9.9)(620.6,8.5)(623.6,7.5)(625.9,4.2)(628.2,4.7)(630.5,9.9)(633.5,15.6)(635.8,14.2)(638.1,11.3)(639.7,12.3)(642,18)(644.3,16.9)(646.6,12.3)(648.9,5.6)(650.5,4.7)(653.5,8.5)(657,10.4)(660.4,12.3)(662.7,10.9)(665,12.8)(667.4,12.8)(669,11.3)(670.8,5.2)(674.3,2.3)(677.3,4.7)(680,7.1)(682.8,10.9)(685.8,12.8)(688.1,11.8)(690.4,11.3)(692,12.8)(694.3,9.9)(696.2,6.6)(698,5.6)(700.3,9.9)(702.6,12.3)(704.9,13.7)(707.7,15.2)(710,12.8)(711.8,11.3)(714.1,11.5)(716.4,11.8)(718.1,9.4)(720,5.2)};
\addlegendentry{SKON}
\end{axis}

% titles and labels
\node[font=\fontsize{28}{32}\selectfont\bfseries] at (627,787) {Загальна концентрація електронів};
\node[font=\fontsize{28}{32}\selectfont\bfseries] at (627,401) {Загальна концентрація електронів};
\node[font=\fontsize{14}{16}\selectfont\bfseries, rotate=90] at (40,671) {VTEC};
\node[font=\fontsize{14}{16}\selectfont\bfseries, rotate=90] at (40,239) {VTEC};
\node[font=\seriffont\fontsize{17}{20}\selectfont, rotate=90] at (29,395) {ел/м\textsuperscript{2}};
\node[font=\fontsize{14}{16}\selectfont\bfseries] at (627,457) {Час};
\node[font=\fontsize{14}{16}\selectfont\bfseries] at (627,16) {Час};
\node[font=\seriffont\fontsize{17}{20}\selectfont\bfseries\itshape] at (1145,499) {t, год};
\node[font=\seriffont\fontsize{17}{20}\selectfont\bfseries\itshape] at (1159,50) {t, год};
\end{tikzpicture}
\end{document}
